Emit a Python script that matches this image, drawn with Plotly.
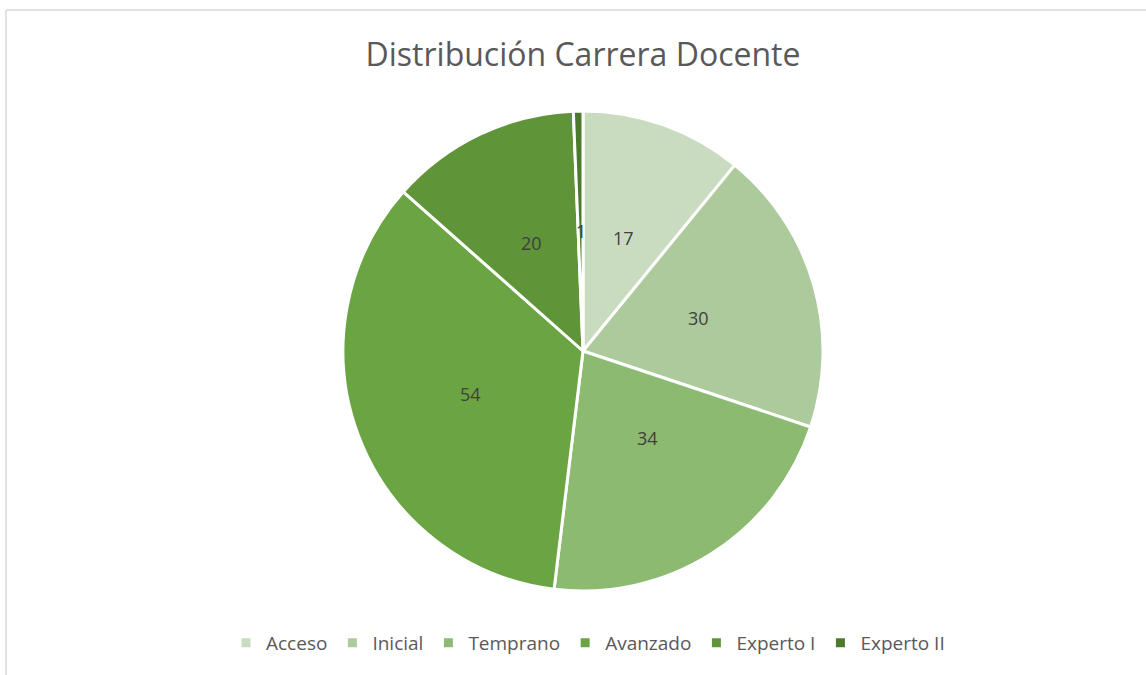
import math
import plotly.graph_objects as go

categories = ["Acceso", "Inicial", "Temprano", "Avanzado", "Experto I", "Experto II"]
values = [17, 30, 34, 54, 20, 1]
colors = ["#C9DCC0", "#ADCA9C", "#8CBA70", "#6BA543", "#5F9439", "#4C7A2D"]

W, H = 1146, 675
cx, cy, r = 583, 351, 240  # pie centre / radius in pixels

fig = go.Figure(go.Pie(
    labels=categories, values=values, sort=False, direction="clockwise", rotation=0,
    marker=dict(colors=colors, line=dict(color="white", width=3)),
    textinfo="none", hoverinfo="label+value",
    domain=dict(x=[(cx - r) / W, (cx + r) / W], y=[1 - (cy + r) / H, 1 - (cy - r) / H]),
))

# data labels at half radius along each slice's mid-angle
total = sum(values)
cum = 0
for v in values:
    mid = (cum + v / 2) / total * 2 * math.pi
    cum += v
    px = cx + 0.5 * r * math.sin(mid)
    py = cy - 0.5 * r * math.cos(mid)
    fig.add_annotation(x=px / W, y=1 - py / H, xref="paper", yref="paper", text=str(v),
                       showarrow=False, font=dict(size=18, color="#404040", family="Open Sans"))

# chart frame (top and left edges visible)
fig.add_shape(type="line", xref="paper", yref="paper", x0=6 / W, x1=1, y0=1 - 10 / H, y1=1 - 10 / H,
              line=dict(color="#D9D9D9", width=1.5))
fig.add_shape(type="line", xref="paper", yref="paper", x0=6 / W, x1=6 / W, y0=0, y1=1 - 10 / H,
              line=dict(color="#D9D9D9", width=1.5))

fig.update_layout(
    width=W, height=H,
    margin=dict(l=0, r=0, t=0, b=0),
    paper_bgcolor="white", plot_bgcolor="white",
    title=dict(text="Distribución Carrera Docente", x=583 / W, xanchor="center",
               y=1 - 55 / H, yanchor="middle", yref="container",
               font=dict(size=32, color="#595959", family="Open Sans")),
    showlegend=True,
    legend=dict(orientation="h", x=588 / W, xanchor="center", y=1 - 643 / H, yanchor="middle",
                font=dict(size=19, color="#595959", family="Open Sans"),
                itemwidth=30, traceorder="normal"),
)

fig.write_html("out.html", config={"displayModeBar": False},
               post_script="document.body.style.margin='0px';document.body.style.padding='0px';")
